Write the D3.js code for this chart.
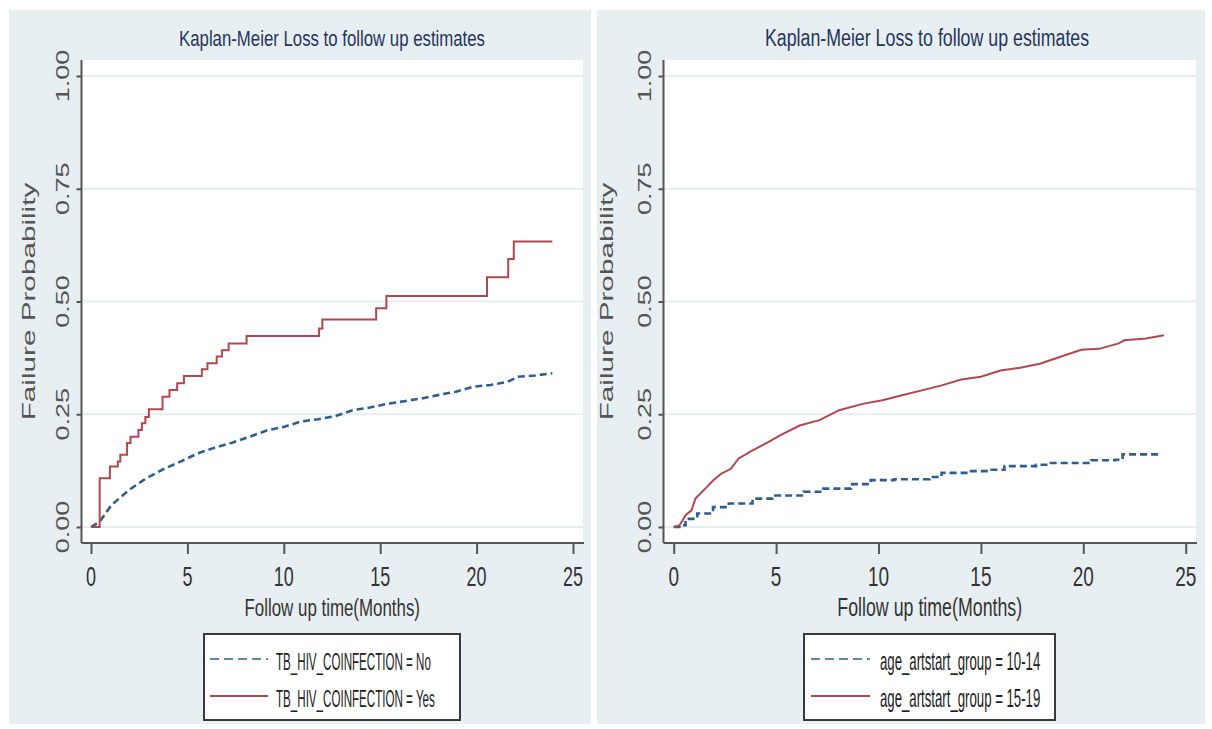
<!DOCTYPE html>
<html>
<head>
<meta charset="utf-8">
<script src="https://cdn.jsdelivr.net/npm/d3@7"></script>
<style>
  body { margin: 0; background: #fff; }
  svg text { font-family: "Liberation Sans", Arial, sans-serif; }
</style>
</head>
<body>
<svg id="chart" width="1212" height="729"></svg>
<script>
// chart values
const titleText = "Kaplan-Meier Loss to follow up estimates";
const xTitle = "Follow up time(Months)";
const yTitle = "Failure Probability";
const xTicks = [0, 5, 10, 15, 20, 25];
const yTicks = [0, 0.25, 0.5, 0.75, 1];
const yTickLabels = ["0.00", "0.25", "0.50", "0.75", "1.00"];

const tbLabels = ["TB_HIV_COINFECTION = No", "TB_HIV_COINFECTION = Yes"];
const tbNoTime = [0, 0.45, 1.07, 1.97, 2.86, 3.75, 4.64, 5.53, 6.43, 7.32, 8.22, 9.11, 10.0, 10.9, 11.79, 12.68, 13.57, 14.47, 15.36, 16.25, 17.15, 18.04, 18.93, 19.82, 20.72, 21.61, 22.15, 23.04, 23.93];
const tbNoProb = [0, 0.012, 0.049, 0.082, 0.108, 0.128, 0.145, 0.163, 0.176, 0.187, 0.2, 0.214, 0.222, 0.234, 0.239, 0.246, 0.259, 0.265, 0.273, 0.279, 0.285, 0.293, 0.3, 0.311, 0.315, 0.322, 0.333, 0.336, 0.341];
const tbYesTime = [0, 0.45, 0.98, 1.39, 1.52, 1.87, 2.05, 2.46, 2.64, 2.82, 3.0, 3.71, 4.07, 4.47, 4.82, 5.75, 6.04, 6.52, 6.79, 7.14, 8.07, 11.83, 12.0, 14.79, 15.32, 20.54, 21.64, 21.93, 23.93];
const tbYesProb = [0, 0.108, 0.134, 0.145, 0.16, 0.186, 0.2, 0.215, 0.23, 0.244, 0.261, 0.289, 0.304, 0.319, 0.335, 0.35, 0.363, 0.378, 0.392, 0.407, 0.4235, 0.44, 0.46, 0.485, 0.512, 0.554, 0.594, 0.633, 0.633];

const ageLabels = ["age_artstart_group = 10-14", "age_artstart_group = 15-19"];
const age1014Time = [0, 0.38, 0.58, 1.15, 1.92, 2.69, 3.85, 4.81, 6.35, 7.31, 8.65, 9.62, 10.77, 12.5, 13.08, 14.42, 15.38, 16.15, 17.69, 18.27, 20.38, 21.54, 21.92, 23.75];
const age1014Prob = [0, 0.004, 0.018, 0.03, 0.044, 0.052, 0.063, 0.07, 0.078, 0.085, 0.095, 0.104, 0.106, 0.111, 0.12, 0.124, 0.127, 0.135, 0.138, 0.142, 0.148, 0.149, 0.161, 0.164];
const age1519Time = [0, 0.29, 0.58, 0.87, 1.06, 1.54, 1.92, 2.31, 2.79, 3.17, 3.85, 4.62, 5.19, 6.15, 7.12, 8.08, 9.23, 10.19, 11.15, 12.12, 13.08, 14.04, 15.0, 15.96, 16.92, 17.88, 18.85, 19.9, 20.77, 21.73, 22.0, 23.06, 23.94];
const age1519Prob = [0, 0.004, 0.026, 0.037, 0.063, 0.085, 0.103, 0.118, 0.129, 0.152, 0.17, 0.188, 0.203, 0.225, 0.237, 0.259, 0.273, 0.281, 0.292, 0.303, 0.314, 0.327, 0.333, 0.347, 0.353, 0.362, 0.377, 0.393, 0.395, 0.407, 0.414, 0.418, 0.425];

const blue = "#2f5e8e", red = "#b3474f";

const panels = [
  { bg: [9, 10, 591, 724], axisX: 81.5, plotRight: 583, xr: [91, 573],
    titleX: 332, titleSize: 16.8, tickSize: 18, xTitleSize: 16.9, yTitleOff: 47,
    legend: { box: [204, 634, 460, 720], line: [210, 268], textX: 276, size: 11.6 },
    labels: tbLabels,
    series: [
      { t: tbNoTime, p: tbNoProb, color: blue, dash: true, step: false },
      { t: tbYesTime, p: tbYesProb, color: red, dash: false, step: true }
    ] },
  { bg: [597, 10, 1205, 724], axisX: 663.5, plotRight: 1196, xr: [673.7, 1185.7],
    titleX: 927, titleSize: 17.8, tickSize: 19, xTitleSize: 17.8, yTitleOff: 51,
    legend: { box: [804, 634, 1055, 720], line: [811, 870], textX: 880, size: 13.2 },
    labels: ageLabels,
    series: [
      { t: age1014Time, p: age1014Prob, color: blue, dash: true, step: true },
      { t: age1519Time, p: age1519Prob, color: red, dash: false, step: false }
    ] }
];

const svg = d3.select("#chart");

// text stretched vertically like the scanned figure
function sText(g, str, x, y, o) {
  const t = g.append("text")
    .attr("transform", `translate(${x},${y}) scale(1,${o.sy || 1})` + (o.rot ? " rotate(-90)" : ""))
    .attr("text-anchor", o.anchor || "middle")
    .style("font-size", o.size + "px")
    .attr("fill", o.fill || "#333")
    .text(str);
  return t;
}

panels.forEach(p => {
  const g = svg.append("g");
  const [bx0, by0, bx1, by1] = p.bg;
  g.append("rect").attr("x", bx0).attr("y", by0).attr("width", bx1 - bx0).attr("height", by1 - by0)
    .attr("fill", "#e8eff2");

  const x = d3.scaleLinear().domain([0, 25]).range(p.xr);
  const y = d3.scaleLinear().domain([0, 1]).range([527, 76]);
  const axisY = 543;

  // plot region
  g.append("rect").attr("x", p.axisX).attr("y", 60).attr("width", p.plotRight - p.axisX).attr("height", axisY - 60)
    .attr("fill", "#fff");

  // grid
  g.selectAll(".grid").data(yTicks).join("line")
    .attr("x1", p.axisX + 1).attr("x2", p.plotRight)
    .attr("y1", d => y(d)).attr("y2", d => y(d))
    .attr("stroke", "#e6eef1").attr("stroke-width", 2);

  // axes
  const xa = g.append("g").attr("transform", `translate(0,${axisY})`)
    .call(d3.axisBottom(x).tickValues(xTicks).tickSize(11).tickSizeOuter(0));
  xa.select(".domain").attr("d", `M${p.axisX},0H${p.plotRight + 1}`);
  xa.selectAll("text").remove();
  const ya = g.append("g").attr("transform", `translate(${p.axisX},0)`)
    .call(d3.axisLeft(y).tickValues(yTicks).tickSize(5).tickSizeOuter(0));
  ya.select(".domain").attr("d", `M0,60V${axisY}`);
  ya.selectAll("text").remove();
  g.selectAll(".domain, .tick line").attr("stroke", "#555").attr("stroke-width", 2);

  // tick labels
  xTicks.forEach(v => sText(g, String(v), x(v), 586, { size: p.tickSize, sy: 1.5, fill: "#333" }));
  yTicks.forEach((v, i) => sText(g, yTickLabels[i], p.axisX - 12.5, y(v), { size: 18, sy: 1.5, rot: true, fill: "#555" }));

  // titles
  sText(g, titleText, p.titleX, 46, { size: p.titleSize, sy: 1.35, fill: "#26355e" });
  sText(g, xTitle, (p.axisX + p.plotRight) / 2, 616, { size: p.xTitleSize, sy: 1.45, fill: "#333" });
  sText(g, yTitle, p.axisX - p.yTitleOff, y(0.5), { size: 18, sy: 1.65, rot: true, fill: "#555" });

  // curves
  p.series.forEach(s => {
    const pts = s.t.map((t, i) => [t, s.p[i]]);
    const line = d3.line().x(d => x(d[0])).y(d => y(d[1]))
      .curve(s.step ? d3.curveStepAfter : d3.curveLinear);
    g.append("path").datum(pts).attr("d", line)
      .attr("fill", "none").attr("stroke", s.color)
      .attr("stroke-width", s.dash ? 2.6 : 2)
      .attr("stroke-dasharray", s.dash ? "7,4" : null);
  });

  // legend
  const L = p.legend;
  g.append("rect").attr("x", L.box[0]).attr("y", L.box[1])
    .attr("width", L.box[2] - L.box[0]).attr("height", L.box[3] - L.box[1])
    .attr("fill", "#fff").attr("stroke", "#3a3a3a").attr("stroke-width", 2);
  const rowY = [659, 696];
  p.series.forEach((s, i) => {
    g.append("line").attr("x1", L.line[0]).attr("x2", L.line[1])
      .attr("y1", rowY[i]).attr("y2", rowY[i])
      .attr("stroke", s.dash ? "#5f85b0" : red).attr("stroke-width", 2)
      .attr("stroke-dasharray", s.dash ? "9,5" : null);
    sText(g, p.labels[i], L.textX, rowY[i] + 11, { size: L.size, sy: 2.0, anchor: "start", fill: "#222" });
  });
});
</script>
</body>
</html>
